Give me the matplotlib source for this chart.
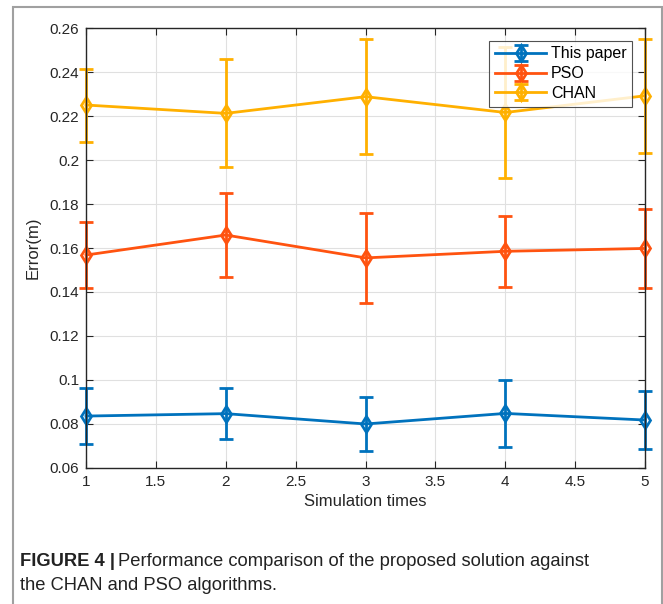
import matplotlib
matplotlib.use("Agg")
import matplotlib.pyplot as plt
from matplotlib.patches import Rectangle

plt.rcParams['font.family'] = ['Liberation Sans', 'DejaVu Sans']

# data
x = [1, 2, 3, 4, 5]
this_paper = [0.0836, 0.0847, 0.0800, 0.0848, 0.0818]
this_paper_err = [0.0127, 0.0115, 0.0123, 0.0153, 0.0130]
pso = [0.1568, 0.1659, 0.1555, 0.1585, 0.1598]
pso_err = [0.0149, 0.0191, 0.0205, 0.0162, 0.0180]
chan = [0.2250, 0.2212, 0.2288, 0.2216, 0.2292]
chan_err = [0.0166, 0.0246, 0.0262, 0.0298, 0.0258]

labels = ['This paper', 'PSO', 'CHAN']
colors = ['#0072BD', '#FF5310', '#FFB000']

fig = plt.figure(figsize=(6.63, 6.04), dpi=100)
ax = fig.add_axes([0.1297, 0.2252, 0.8432, 0.7284])

for ys, es, lab, c in zip([this_paper, pso, chan], [this_paper_err, pso_err, chan_err], labels, colors):
    cont = ax.errorbar(x, ys, yerr=es, color=c, lw=2, marker='d', ms=8, mfc='none',
                       mec=c, mew=2, capsize=5, capthick=2, elinewidth=2, label=lab)
    for art in cont.get_children():
        art.set_clip_on(False)

ax.set_xlim(1, 5)
ax.set_ylim(0.06, 0.26)
ax.set_xticks([1, 1.5, 2, 2.5, 3, 3.5, 4, 4.5, 5])
ax.set_xticklabels(['1', '1.5', '2', '2.5', '3', '3.5', '4', '4.5', '5'])
ax.set_yticks([0.06, 0.08, 0.1, 0.12, 0.14, 0.16, 0.18, 0.2, 0.22, 0.24, 0.26])
ax.set_yticklabels(['0.06', '0.08', '0.1', '0.12', '0.14', '0.16', '0.18', '0.2', '0.22', '0.24', '0.26'])
ax.grid(True, color='#e0e0e0', lw=0.8)
ax.set_axisbelow(True)
ax.tick_params(direction='in', top=True, right=True, length=5, labelsize=11,
               colors='#262626', pad=5)
for s in ax.spines.values():
    s.set_color('#262626')
    s.set_linewidth(1)

ax.set_xlabel('Simulation times', fontsize=12, color='#262626', labelpad=4)
ax.set_ylabel('Error(m)', fontsize=12, color='#262626', labelpad=6)

leg = ax.legend(loc='upper right', fontsize=11.5, frameon=True, fancybox=False,
                edgecolor='#262626', borderpad=0.35, handlelength=3.2,
                handletextpad=0.3, labelspacing=0.3, borderaxespad=0,
                bbox_to_anchor=(0.977, 0.971))
leg.get_frame().set_linewidth(0.8)
leg.set_zorder(5)

# outer frame of the figure panel
fig.patches.append(Rectangle((13 / 663, -0.05), 649 / 663, 1.05 - 7 / 604,
                             transform=fig.transFigure, fill=False,
                             edgecolor='#a0a0a0', lw=1.5))

# caption
cap_size = 13.2
t1 = fig.text(20 / 663, 1 - 562 / 604, 'FIGURE 4 |', fontsize=cap_size,
              fontweight='bold', va='center', color='#222222')
fig.canvas.draw()
bb = t1.get_window_extent()
fig.text(bb.x1 / fig.bbox.width + 0.004, 1 - 562 / 604,
         'Performance comparison of the proposed solution against',
         fontsize=cap_size, va='center', color='#222222')
fig.text(20 / 663, 1 - 586 / 604, 'the CHAN and PSO algorithms.',
         fontsize=cap_size, va='center', color='#222222')

fig.savefig('out.png', dpi=100)
